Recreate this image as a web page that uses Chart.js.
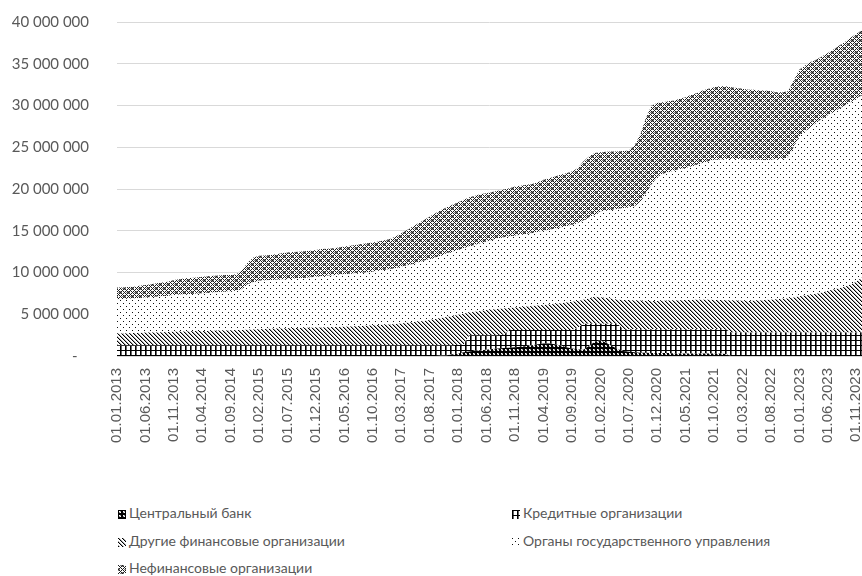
<!DOCTYPE html>
<html>
<head>
<meta charset="utf-8">
<script src="https://cdn.jsdelivr.net/npm/chart.js@4/dist/chart.umd.min.js"></script>
<style>
  body { margin: 0; background: #fff; }
  #wrap { position: absolute; left: 0; top: 0; width: 862px; height: 460px; }
  .leg { position: absolute; font-family: Lato, sans-serif; font-size: 14px; color: #595959; white-space: nowrap; }
  .leg i { display: inline-block; width: 8px; height: 9px; margin-right: 3px; vertical-align: -1px; }
</style>
</head>
<body>
<div id="wrap"><canvas id="myChart"></canvas></div>
<div id="legend"></div>
<script>
// values in millions, monthly 01.01.2013 - 01.12.2023
const years = [2013, 2014, 2015, 2016, 2017, 2018, 2019, 2020, 2021, 2022, 2023];

const centralBank = [
  0,0,0,0,0,0,0,0,0,0,0,0,
  0,0,0,0,0,0,0,0,0,0,0,0,
  0,0,0,0,0,0,0,0,0,0,0,0,
  0,0,0,0,0,0,0,0,0,0,0,0,
  0,0,0,0,0,0,0,0,0,0.05,0.1,0.2,
  0.3,0.45,0.55,0.65,0.7,0.75,0.85,0.9,0.95,1.0,1.05,1.1,
  1.2,1.3,1.4,1.5,1.5,1.4,1.25,1.05,0.9,0.8,0.75,1.2,
  1.7,1.9,1.6,1.2,0.85,0.6,0.5,0.45,0.4,0.4,0.35,0.35,
  0.35,0.35,0.3,0.3,0.3,0.3,0.3,0.3,0.3,0.3,0.3,0.25,
  0,0,0,0,0,0,0,0,0,0,0,0,
  0,0,0,0,0,0,0,0,0,0,0,0
];
const creditOrg = [
  1.3,1.3,1.3,1.3,1.3,1.3,1.3,1.3,1.3,1.3,1.3,1.3,
  1.3,1.3,1.3,1.3,1.3,1.3,1.3,1.3,1.3,1.3,1.3,1.3,
  1.3,1.3,1.3,1.3,1.3,1.3,1.3,1.3,1.3,1.3,1.3,1.3,
  1.3,1.3,1.3,1.3,1.3,1.3,1.3,1.3,1.3,1.3,1.3,1.3,
  1.3,1.3,1.3,1.3,1.3,1.3,1.3,1.3,1.3,1.25,1.2,1.1,
  1.05,0.95,1.95,1.85,1.8,1.75,1.65,1.6,1.6,2.1,2.05,2.0,
  1.9,1.8,1.7,1.6,1.6,1.7,1.85,2.05,2.2,2.55,3.1,2.65,
  2.15,1.95,2.25,2.65,3.0,2.6,2.7,2.75,2.8,2.8,2.85,2.85,
  2.85,2.85,2.9,2.9,2.9,2.9,2.9,2.9,2.9,2.9,2.9,2.95,
  2.8,2.8,2.8,2.8,2.8,2.8,2.8,2.8,2.8,2.8,2.8,2.8,
  2.8,2.8,2.8,2.8,2.8,2.8,2.8,2.8,2.8,2.8,2.8,2.8
];
const otherFin = [
  1.4,1.4,1.42,1.44,1.46,1.5,1.5,1.52,1.55,1.57,1.6,1.62,
  1.64,1.66,1.68,1.7,1.7,1.72,1.74,1.76,1.78,1.8,1.82,1.85,
  1.88,1.9,1.92,1.95,1.98,2.0,2.03,2.05,2.06,2.07,2.08,2.1,
  2.12,2.14,2.16,2.18,2.2,2.23,2.26,2.3,2.33,2.37,2.4,2.44,
  2.48,2.53,2.6,2.68,2.75,2.82,2.9,3.0,3.12,3.25,3.38,3.5,
  3.6,3.7,2.7,2.8,2.9,3.0,3.08,3.14,3.15,2.66,2.72,2.78,
  2.84,2.9,2.96,3.02,3.08,3.14,3.22,3.3,3.4,3.25,2.9,3.05,
  3.25,3.2,3.1,3.0,2.9,3.5,3.5,3.45,3.45,3.4,3.4,3.4,
  3.42,3.44,3.46,3.48,3.5,3.52,3.54,3.55,3.55,3.52,3.5,3.48,
  3.86,3.84,3.82,3.8,3.82,3.86,3.9,3.95,4.0,4.05,4.1,4.2,
  4.35,4.45,4.55,4.65,4.8,5.0,5.15,5.3,5.5,5.75,6.1,6.6
];
const government = [
  4.1,4.1,4.13,4.16,4.19,4.2,4.25,4.28,4.3,4.33,4.4,4.43,
  4.46,4.46,4.47,4.5,4.55,4.58,4.61,4.64,4.67,4.7,4.88,5.45,
  5.62,5.8,5.83,5.85,5.84,5.85,5.87,5.9,5.94,5.98,6.02,6.1,
  6.13,6.16,6.19,6.24,6.3,6.32,6.34,6.35,6.37,6.43,6.5,6.56,
  6.62,6.67,6.8,6.87,6.95,7.08,7.2,7.3,7.38,7.45,7.62,7.7,
  7.75,7.8,7.9,8.0,8.1,8.2,8.32,8.46,8.5,8.54,8.58,8.62,
  8.66,8.7,8.79,8.88,8.92,9.01,9.08,9.15,9.2,9.3,9.45,9.7,
  9.8,10.25,10.45,10.65,10.85,11.0,11.1,11.25,11.75,12.9,13.9,14.8,
  15.18,15.36,15.54,15.72,15.8,15.98,16.16,16.35,16.55,16.78,16.8,16.92,
  16.94,16.96,16.93,16.9,16.88,16.84,16.75,16.75,16.75,16.75,16.9,18.0,
  19.15,19.65,20.05,20.45,20.8,21.0,21.25,21.5,21.7,21.85,21.9,21.8
];
const nonFin = [
  1.4,1.4,1.4,1.4,1.45,1.5,1.55,1.6,1.65,1.7,1.8,1.85,
  1.9,1.93,1.95,2.0,2.0,2.0,2.0,2.0,1.95,2.0,2.3,2.6,
  3.0,3.0,3.0,3.0,3.08,3.15,3.2,3.2,3.2,3.2,3.2,3.2,
  3.25,3.25,3.25,3.28,3.3,3.35,3.4,3.45,3.5,3.5,3.5,3.55,
  3.6,3.8,4.0,4.25,4.5,4.7,4.9,5.1,5.3,5.5,5.5,5.6,
  5.7,5.8,5.9,5.9,5.9,5.8,5.75,5.7,5.75,5.8,5.9,5.9,
  5.9,5.9,5.95,6.1,6.2,6.25,6.3,6.35,6.4,6.6,7.1,7.3,
  7.4,7.1,7.05,7.0,6.9,6.85,6.8,7.3,8.1,9.0,9.5,8.9,
  8.6,8.5,8.4,8.4,8.5,8.6,8.6,8.7,8.7,8.7,8.8,8.7,
  8.6,8.5,8.45,8.4,8.4,8.3,8.35,8.2,8.05,8.0,7.9,8.0,
  8.0,7.9,7.8,7.6,7.5,7.5,7.5,7.6,7.6,7.7,7.8,7.8
];

const seriesNames = [
  "Центральный банк",
  "Кредитные организации",
  "Другие финансовые организации",
  "Органы государственного управления",
  "Нефинансовые организации"
];

const dates = [];
for (const y of years) {
  for (let m = 1; m <= 12; m++) {
    dates.push("01." + (m < 10 ? "0" + m : m) + "." + y);
  }
}

// pattern tiles
function makeTile(w, h, fn) {
  const c = document.createElement("canvas");
  c.width = w; c.height = h;
  const g = c.getContext("2d");
  g.fillStyle = "#fff";
  g.fillRect(0, 0, w, h);
  for (let y = 0; y < h; y++) {
    for (let x = 0; x < w; x++) {
      const col = fn(x, y);
      if (col) { g.fillStyle = col; g.fillRect(x, y, 1, 1); }
    }
  }
  return c;
}

const tiles = [
  makeTile(4, 4, (x, y) => {
    if ((x === 1 && y === 1) || (x === 2 && y === 2)) return "#fff";
    if ((x === 2 && y === 1) || (x === 1 && y === 2)) return "#999";
    return "#000";
  }),
  makeTile(5, 5, (x, y) => {
    if (x === 0 || y === 0) return "#000";
    if (x === 1) return "#666";
    return null;
  }),
  makeTile(4, 4, (x, y) => {
    if (x === y) return "#000";
    if (x === (y + 1) % 4) return "#aaa";
    return null;
  }),
  makeTile(6, 6, (x, y) => {
    if ((x === 0 && y === 0) || (x === 3 && y === 3)) return "#111";
    return null;
  }),
  makeTile(8, 8, (x, y) => {
    if ((x + y) % 4 === 0 || ((x - y) % 4 + 4) % 4 === 0) return "#1e1e1e";
    if (((x + y - 2) % 8 + 8) % 8 < 4 && ((x - y - 2) % 8 + 8) % 8 < 4) return "#808080";
    return null;
  })
];

const canvas = document.getElementById("myChart");
const ctx = canvas.getContext("2d");
const patterns = tiles.map(t => ctx.createPattern(t, "repeat"));

const allSeries = [centralBank, creditOrg, otherFin, government, nonFin];
const datasets = allSeries.map((s, k) => ({
  label: seriesNames[k],
  data: s.map(v => v * 1000000),
  backgroundColor: patterns[k],
  borderWidth: 0,
  pointRadius: 0,
  tension: 0,
  fill: k === 0 ? "origin" : "-1"
}));

function fmt(v) {
  if (v === 0) return "-   ";
  return String(v).replace(/\B(?=(\d{3})+(?!\d))/g, " ");
}

new Chart(canvas, {
  type: "line",
  data: { labels: dates, datasets: datasets },
  options: {
    animation: false,
    responsive: true,
    maintainAspectRatio: false,
    layout: { padding: { top: 22, right: 0, left: 0, bottom: 0 } },
    plugins: { legend: { display: false }, tooltip: { enabled: false } },
    scales: {
      x: {
        grid: { display: false },
        border: { display: false },
        ticks: {
          autoSkip: false,
          maxRotation: 90,
          minRotation: 90,
          padding: 4,
          color: "#595959",
          font: { family: "Liberation Sans", size: 15 },
          callback: function (val, i) { return i % 5 === 0 ? dates[i] : ""; }
        },
        afterFit: function (scale) {
          scale.height = 104;
          scale.paddingLeft = 0;
          scale.paddingRight = 0;
        }
      },
      y: {
        stacked: true,
        min: 0,
        max: 40000000,
        border: { display: false },
        grid: { color: "#d9d9d9", drawTicks: false, lineWidth: 1 },
        ticks: {
          stepSize: 5000000,
          padding: 28,
          color: "#595959",
          font: { family: "Lato", size: 15 },
          callback: fmt
        },
        afterFit: function (scale) {
          scale.width = 117;
          scale.paddingTop = 0;
          scale.paddingBottom = 0;
        }
      }
    }
  }
});

// legend
const legendPos = [[118, 504], [512, 504], [118, 532], [512, 532], [118, 559]];
const legend = document.getElementById("legend");
seriesNames.forEach((name, k) => {
  const d = document.createElement("div");
  d.className = "leg";
  d.style.left = legendPos[k][0] + "px";
  d.style.top = legendPos[k][1] + "px";
  const box = document.createElement("i");
  box.style.backgroundImage = "url(" + tiles[k].toDataURL() + ")";
  d.appendChild(box);
  d.appendChild(document.createTextNode(name));
  legend.appendChild(d);
});
</script>
</body>
</html>
